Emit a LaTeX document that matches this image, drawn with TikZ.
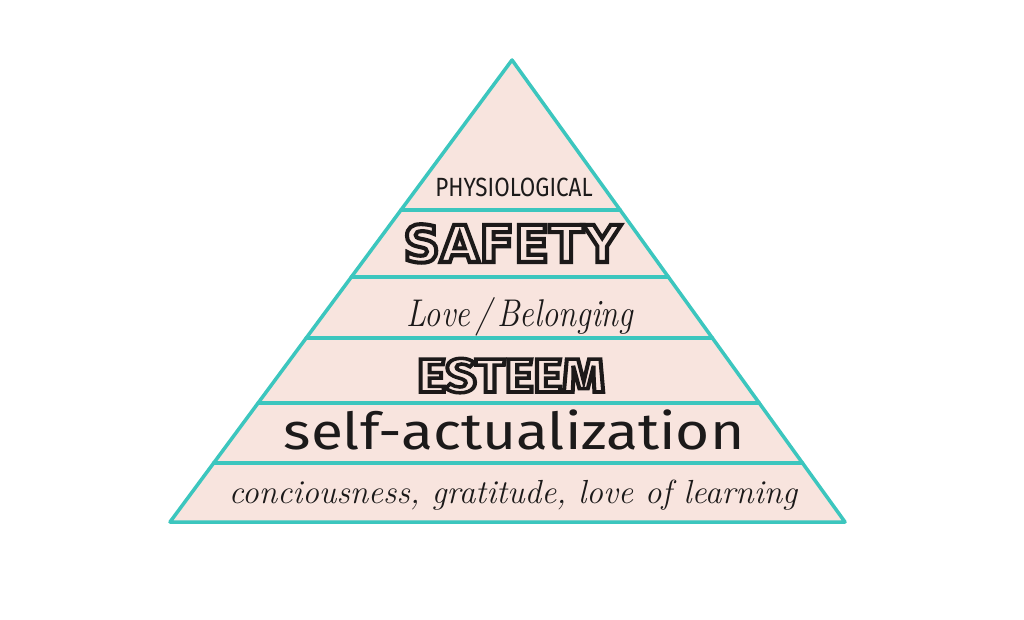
\documentclass[tikz,border=0pt]{standalone}
\usepackage{fontspec}
\newfontfamily\capsfont{Fira Sans}
\newfontfamily\boldcaps{DejaVu Sans}
\usetikzlibrary{calc}
\definecolor{tealline}{HTML}{3CC6BE}
\definecolor{pinkfill}{HTML}{F8E4DE}
\definecolor{inkblack}{HTML}{1C1A1A}
% hollow letters: stroke the glyph outlines only
\newcommand{\hollowtext}[2]{\special{pdf:literal 1 Tr #1 w 0.11 0.10 0.10 RG}#2\special{pdf:literal 0 Tr}}
\tikzset{
  layerline/.style={draw=tealline, line width=2pt, line cap=round, line join=round},
  layertext/.style={text=inkblack, inner sep=0pt, anchor=base}
}

\begin{document}
\begin{tikzpicture}[x=0.02cm, y=-0.02cm]
    \useasboundingbox (0,0) rectangle (1024,619);

    % pyramid outline
    \coordinate (apex) at (512,60);
    \coordinate (baseleft) at (170,522);
    \coordinate (baseright) at (845,522);
    \filldraw[layerline, fill=pinkfill] (apex) -- (baseright) -- (baseleft) -- cycle;

    % band lines between the levels
    \foreach \t in {0.3247, 0.4697, 0.6017, 0.7424, 0.8723}
        \draw[layerline] ($(apex)!\t!(baseleft)$) -- ($(apex)!\t!(baseright)$);

    % level labels
    \node[layertext] (physio) at (514,196) {\capsfont\fontsize{15}{15}\selectfont\scalebox{0.85}[1]{PHYSIOLOGICAL}};
    \node[layertext] (safety) at (512,262) {\boldcaps\bfseries\fontsize{29}{29}\selectfont\hollowtext{2.3}{SAFETY}};
    \node[layertext] (belong) at (520,326) {\itshape\fontsize{22}{22}\selectfont\scalebox{0.84}[1]{Love\,/\,Belonging}};
    \node[layertext] (esteem) at (511,392) {\capsfont\bfseries\fontsize{27}{27}\selectfont\scalebox{1.15}[1]{\hollowtext{2}{ESTEEM}}};
    \node[layertext] (selfact) at (514,449) {\capsfont\fontsize{29}{29}\selectfont\scalebox{1.15}[1]{self-actualization}};
    \node[layertext] (gratitude) at (513,503) {\itshape\fontsize{19}{19}\selectfont conciousness, gratitude, love of learning};
\end{tikzpicture}
\end{document}
